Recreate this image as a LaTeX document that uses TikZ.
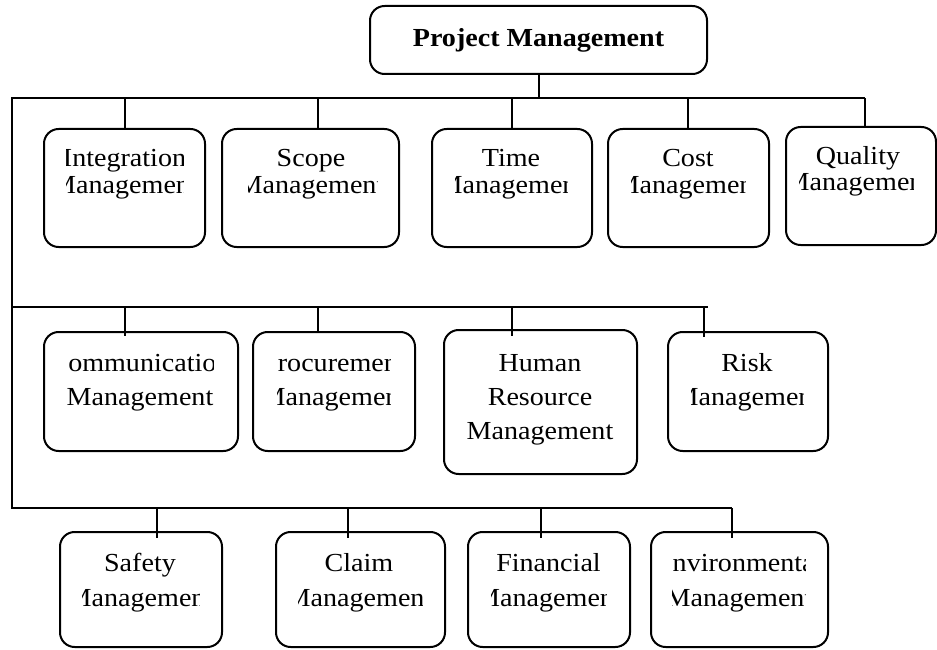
\documentclass[tikz,border=0pt]{standalone}
\usepackage{fontspec}
\setmainfont{Liberation Serif}[FakeStretch=1.08]
\usetikzlibrary{calc}
\tikzset{
  mbox/.style={draw, rounded corners=11pt, line width=1.5pt, inner sep=0pt},
  conn/.style={line width=1.5pt},
  lbl/.style={align=center, inner sep=0pt, anchor=base, font=\fontsize{19.5}{#1}\selectfont},
}
\newcommand\mgbox[5]{\node[mbox, minimum width={(#4-#2)*0.75pt}, minimum height={(#5-#3)*0.75pt}] (#1) at ({(#2+#4)/2},{(#3+#5)/2}) {};}
\newcommand\mgtext[7]{\begin{scope}\clip (#2,0) rectangle (#3,649); \node[lbl=#6] (#1) at (#4,#5) {#7}; \end{scope}}
\begin{document}
\begin{tikzpicture}[x=0.75pt,y=-0.75pt]
\useasboundingbox (0,0) rectangle (937,649);
\clip (0,0) rectangle (937,649);
% title
\node[mbox, minimum width={337*0.75pt}, minimum height={68*0.75pt}, font=\bfseries\fontsize{19.5}{20}\selectfont] (pm) at (538.5,40) {Project Management};
% boxes
\mgbox{int}{44}{129}{205}{247}
\mgbox{scope}{222}{129}{399}{247}
\mgbox{time}{432}{129}{592}{247}
\mgbox{cost}{608}{129}{769}{247}
\mgbox{qual}{786}{127}{936}{245}
\mgbox{comm}{44}{332}{238}{451}
\mgbox{proc}{253}{332}{415}{451}
\mgbox{hr}{444}{330}{637}{474}
\mgbox{risk}{668}{332}{828}{451}
\mgbox{safe}{60}{532}{222}{647}
\mgbox{claim}{276}{532}{445}{647}
\mgbox{fin}{468}{532}{630}{647}
\mgbox{env}{651}{532}{828}{647}
% labels (clipped as in the reference; y = baseline of the last line)
\mgtext{int-t}{66}{183}{124.5}{193.3}{20pt}{Integration\\Management}
\mgtext{scope-t}{248}{377}{311}{193.3}{20pt}{Scope\\Management}
\mgtext{time-t}{455}{567}{511}{193.3}{20pt}{Time\\Management}
\mgtext{cost-t}{631}{745}{688}{193.3}{20pt}{Cost\\Management}
\mgtext{qual-t}{799}{913}{858}{190}{19.5pt}{Quality\\Management}
\mgtext{comm-t}{67}{213}{140}{405}{25.1pt}{Communication\\Management}
\mgtext{proc-t}{277}{390}{334}{405}{25.1pt}{Procurement\\Management}
\mgtext{hr-t}{467}{613}{540}{439}{25.3pt}{Human\\Resource\\Management}
\mgtext{risk-t}{691}{803}{747}{405}{25.1pt}{Risk\\Management}
\mgtext{safe-t}{82}{199}{140}{606.7}{26.3pt}{Safety\\Management}
\mgtext{claim-t}{298}{422}{359}{606.7}{26.3pt}{Claim\\Management}
\mgtext{fin-t}{491}{606}{548.5}{606.7}{26.3pt}{Financial\\Management}
\mgtext{env-t}{672}{805}{739}{606.7}{26.3pt}{Environmental\\Management}
% buses
\coordinate (b1L) at (12.3,98.5);  \coordinate (b1R) at (865,98.5);
\coordinate (b2L) at (12.3,307.3); \coordinate (b2R) at (708,307.3);
\coordinate (b3L) at (12.3,508.3); \coordinate (b3R) at (732.3,508.3);
\draw[conn] (b1R) -- (b1L) -- (b3L) -- (b3R);
\draw[conn] (b2L) -- (b2R);
\draw[conn] (pm.south) -- (pm.south |- b1L);
% stems row 1
\coordinate (s11) at (125,98.5);   \draw[conn] (s11) -- (s11 |- int.north);
\coordinate (s12) at (318,98.5);   \draw[conn] (s12) -- (s12 |- scope.north);
\coordinate (s13) at (511.7,98.5); \draw[conn] (s13) -- (s13 |- time.north);
\coordinate (s14) at (688,98.5);   \draw[conn] (s14) -- (s14 |- cost.north);
\draw[conn] (b1R) -- ($(b1R |- qual.north)+(0,2)$);
% stems row 2
\coordinate (s21) at (125,307.3);   \draw[conn] (s21) -- ($(s21 |- comm.north)+(0,5)$);
\coordinate (s22) at (318.3,307.3); \draw[conn] (s22) -- (s22 |- proc.north);
\coordinate (s23) at (511.7,307.3); \draw[conn] (s23) -- ($(s23 |- hr.north)+(0,6.5)$);
\coordinate (s24) at (704.3,307.3); \draw[conn] (s24) -- ($(s24 |- risk.north)+(0,5.5)$);
% stems row 3
\coordinate (s31) at (156.7,508.3); \draw[conn] (s31) -- ($(s31 |- safe.north)+(0,6.5)$);
\coordinate (s32) at (348.3,508.3); \draw[conn] (s32) -- ($(s32 |- claim.north)+(0,6.5)$);
\coordinate (s33) at (540.7,508.3); \draw[conn] (s33) -- ($(s33 |- fin.north)+(0,6.5)$);
\draw[conn] (b3R) -- ($(b3R |- env.north)+(0,6.5)$);
\end{tikzpicture}
\end{document}
